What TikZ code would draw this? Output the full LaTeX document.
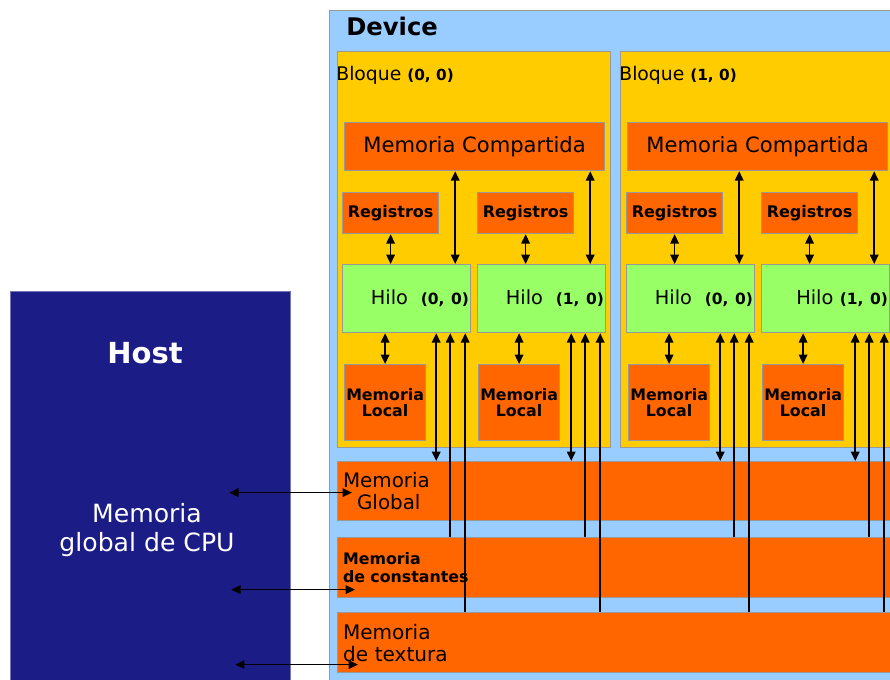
\documentclass[tikz,border=0pt]{standalone}
\usepackage{fontspec}
\setmainfont{DejaVu Sans}
\usepackage{xcolor}
\usetikzlibrary{arrows.meta,calc,positioning}

\definecolor{devblue}{HTML}{99CCFF}
\definecolor{blockyellow}{HTML}{FFCC00}
\definecolor{memorange}{HTML}{FF6600}
\definecolor{hilogreen}{HTML}{99FF66}
\definecolor{hostblue}{HTML}{1C1C87}
\definecolor{edgegray}{HTML}{999999}

\begin{document}
\begin{tikzpicture}[
    x=0.02cm, y=-0.02cm,
    box/.style={rectangle, draw=edgegray, line width=0.7pt, anchor=north west, inner sep=0pt},
    blockbox/.style={box, fill=blockyellow, minimum height=7.92cm},
    shared/.style={box, fill=memorange, minimum width=5.2cm, minimum height=0.96cm, font=\fontsize{12}{14}\selectfont},
    regbox/.style={box, fill=memorange, minimum width=1.92cm, minimum height=0.82cm, font=\bfseries\fontsize{9.1}{10}\selectfont},
    hilo/.style={box, fill=hilogreen, minimum width=2.56cm, minimum height=1.36cm, inner xsep=1pt, text width=2.56cm-2pt, align=right, font=\fontsize{11}{13}\selectfont},
    localbox/.style={box, fill=memorange, minimum width=1.62cm, minimum height=1.52cm, align=center, font=\bfseries\fontsize{9}{9.4}\selectfont},
    bar/.style={box, fill=memorange, minimum width=11.26cm, inner xsep=0.11cm, text width=11.04cm, align=left},
    dblarrow/.style={{Triangle[length=5.3pt,width=4.8pt]}-{Triangle[length=5.3pt,width=4.8pt]}, line width=1pt},
    uparrow/.style={{Triangle[length=5.3pt,width=4.8pt]}-, line width=1pt}
]
    \useasboundingbox (0,0) rectangle (890,680);
    \clip (0,0) rectangle (890,680);

    % device and blocks
    \node[box, fill=devblue, minimum width=11.42cm, minimum height=13.8cm] (device) at (329,10) {};
    \node[anchor=west, inner sep=0pt, font=\bfseries\fontsize{13.8}{16}\selectfont] (devlabel) at (346,26) {Device};
    \node[blockbox, minimum width=5.46cm] (block0) at (337,51) {};
    \node[blockbox, minimum width=6cm] (block1) at (620,51) {};
    \node[anchor=west, inner sep=0pt, font=\fontsize{10.7}{12}\selectfont] (block0label) at (336,75) {Bloque {\bfseries\fontsize{8.7}{10}\selectfont(0, 0)}};
    \node[anchor=west, inner sep=0pt, font=\fontsize{10.7}{12}\selectfont] (block1label) at (619,75) {Bloque {\bfseries\fontsize{8.7}{10}\selectfont(1, 0)}};

    \node[shared] (shared0) at (344,122) {Memoria Compartida};
    \node[shared] (shared1) at (627,122) {Memoria Compartida};

    \node[regbox] (reg00) at (342,192) {Registros};
    \node[regbox] (reg01) at (477,192) {Registros};
    \node[regbox] (reg10) at (626,192) {Registros};
    \node[regbox] (reg11) at (761,192) {Registros};

    \node[hilo] (hilo00) at (342,264) {Hilo\ \ {\bfseries\fontsize{8.8}{10}\selectfont(0, 0)}};
    \node[hilo] (hilo01) at (477,264) {Hilo\ \ {\bfseries\fontsize{8.8}{10}\selectfont(1, 0)}};
    \node[hilo] (hilo10) at (626,264) {Hilo\ \ {\bfseries\fontsize{8.8}{10}\selectfont(0, 0)}};
    \node[hilo] (hilo11) at (761,264) {Hilo {\bfseries\fontsize{8.8}{10}\selectfont(1, 0)}};

    \node[localbox] (local00) at (344,364) {Memoria\\Local};
    \node[localbox] (local01) at (478,364) {Memoria\\Local};
    \node[localbox] (local10) at (628,364) {Memoria\\Local};
    \node[localbox] (local11) at (762,364) {Memoria\\Local};

    % memories of the device
    \node[bar, minimum height=1.18cm, font=\fontsize{11.3}{12.5}\selectfont] (global) at (337,461) {Memoria\\\hspace*{0.28cm}Global};
    \node[bar, minimum height=1.2cm, font=\bfseries\fontsize{9}{10}\selectfont] (const) at (337,537) {Memoria\\de constantes};
    \node[bar, minimum height=1.2cm, font=\fontsize{11.4}{12.5}\selectfont] (texture) at (337,612) {Memoria\\de textura};

    % host
    \node[box, draw=hostblue!60!white, fill=hostblue, minimum width=5.6cm, minimum height=8.2cm] (host) at (10,291) {};
    \node[text=white, font=\bfseries\fontsize{16.5}{19}\selectfont] (hostlabel) at (145,353) {Host};
    \node[text=white, align=center, font=\fontsize{14.3}{17}\selectfont] (cpumem) at (147,530) {Memoria\\global de CPU};

    % registers <-> threads
    \draw[dblarrow] (reg00.south) -- (reg00.south |- hilo00.north);
    \draw[dblarrow] (reg01.south) -- (reg01.south |- hilo01.north);
    \draw[dblarrow] (reg10.south) -- (reg10.south |- hilo10.north);
    \draw[dblarrow] (reg11.south) -- (reg11.south |- hilo11.north);

    % shared memory <-> threads
    \draw[dblarrow] ([xshift=-0.32cm]hilo00.north east) -- ([xshift=-0.32cm]hilo00.north east |- shared0.south);
    \draw[dblarrow] ([xshift=-0.32cm]hilo01.north east) -- ([xshift=-0.32cm]hilo01.north east |- shared0.south);
    \draw[dblarrow] ([xshift=-0.32cm]hilo10.north east) -- ([xshift=-0.32cm]hilo10.north east |- shared1.south);
    \draw[dblarrow] ([xshift=-0.32cm]hilo11.north east) -- ([xshift=-0.32cm]hilo11.north east |- shared1.south);

    % threads <-> local memory
    \draw[dblarrow] (local00.north) -- (local00.north |- hilo00.south);
    \draw[dblarrow] (local01.north) -- (local01.north |- hilo01.south);
    \draw[dblarrow] (local10.north) -- (local10.north |- hilo10.south);
    \draw[dblarrow] (local11.north) -- (local11.north |- hilo11.south);

    % threads <-> global, constant, texture memory
    \draw[dblarrow] ([xshift=-0.7cm]hilo00.south east) -- ([xshift=-0.7cm]hilo00.south east |- global.north);
    \draw[uparrow] ([xshift=-0.42cm]hilo00.south east) -- ([xshift=-0.42cm]hilo00.south east |- const.north);
    \draw[uparrow] ([xshift=-0.12cm]hilo00.south east) -- ([xshift=-0.12cm]hilo00.south east |- texture.north);
    \draw[dblarrow] ([xshift=-0.7cm]hilo01.south east) -- ([xshift=-0.7cm]hilo01.south east |- global.north);
    \draw[uparrow] ([xshift=-0.42cm]hilo01.south east) -- ([xshift=-0.42cm]hilo01.south east |- const.north);
    \draw[uparrow] ([xshift=-0.12cm]hilo01.south east) -- ([xshift=-0.12cm]hilo01.south east |- texture.north);
    \draw[dblarrow] ([xshift=-0.7cm]hilo10.south east) -- ([xshift=-0.7cm]hilo10.south east |- global.north);
    \draw[uparrow] ([xshift=-0.42cm]hilo10.south east) -- ([xshift=-0.42cm]hilo10.south east |- const.north);
    \draw[uparrow] ([xshift=-0.12cm]hilo10.south east) -- ([xshift=-0.12cm]hilo10.south east |- texture.north);
    \draw[dblarrow] ([xshift=-0.7cm]hilo11.south east) -- ([xshift=-0.7cm]hilo11.south east |- global.north);
    \draw[uparrow] ([xshift=-0.42cm]hilo11.south east) -- ([xshift=-0.42cm]hilo11.south east |- const.north);
    \draw[uparrow] ([xshift=-0.12cm]hilo11.south east) -- ([xshift=-0.12cm]hilo11.south east |- texture.north);

    % host <-> device memories
    \draw[dblarrow] ([xshift=-1.24cm, yshift=-0.03cm]host.east |- global.west) -- ([xshift=0.3cm, yshift=-0.03cm]global.west);
    \draw[dblarrow] ([xshift=-1.2cm, yshift=-0.44cm]host.east |- const.west) -- ([xshift=0.36cm, yshift=-0.44cm]const.west);
    \draw[dblarrow] ([xshift=-1.12cm, yshift=-0.44cm]host.east |- texture.west) -- ([xshift=0.42cm, yshift=-0.44cm]texture.west);
\end{tikzpicture}
\end{document}
